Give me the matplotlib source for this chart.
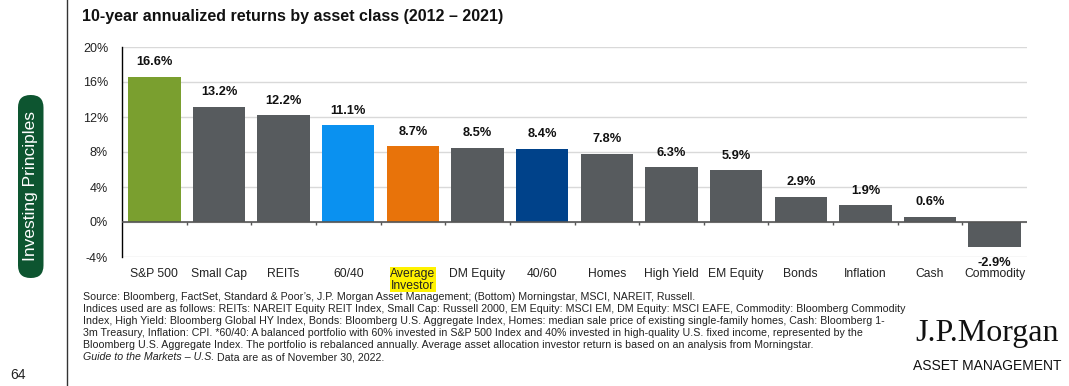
import numpy as np
import matplotlib
matplotlib.use("Agg")
import matplotlib.pyplot as plt
from matplotlib.patches import FancyBboxPatch

plt.rcParams['font.family'] = ['Liberation Sans', 'DejaVu Sans']

categories = ['S&P 500', 'Small Cap', 'REITs', '60/40', 'Average\nInvestor', 'DM Equity',
              '40/60', 'Homes', 'High Yield', 'EM Equity', 'Bonds', 'Inflation', 'Cash', 'Commodity']
returns = [16.6, 13.2, 12.2, 11.1, 8.7, 8.5, 8.4, 7.8, 6.3, 5.9, 2.9, 1.9, 0.6, -2.9]
bar_colors = ['#7A9F2F', '#575B5E', '#575B5E', '#0A91F0', '#E8730A', '#575B5E', '#00428A',
              '#575B5E', '#575B5E', '#575B5E', '#575B5E', '#575B5E', '#575B5E', '#575B5E']
yticks = [-4, 0, 4, 8, 12, 16, 20]

title = '10-year annualized returns by asset class (2012 \u2013 2021)'
footnote = [
    "Source: Bloomberg, FactSet, Standard & Poor\u2019s, J.P. Morgan Asset Management; (Bottom) Morningstar, MSCI, NAREIT, Russell.",
    "Indices used are as follows: REITs: NAREIT Equity REIT Index, Small Cap: Russell 2000, EM Equity: MSCI EM, DM Equity: MSCI EAFE, Commodity: Bloomberg Commodity",
    "Index, High Yield: Bloomberg Global HY Index, Bonds: Bloomberg U.S. Aggregate Index, Homes: median sale price of existing single-family homes, Cash: Bloomberg 1-",
    "3m Treasury, Inflation: CPI. *60/40: A balanced portfolio with 60% invested in S&P 500 Index and 40% invested in high-quality U.S. fixed income, represented by the",
    "Bloomberg U.S. Aggregate Index. The portfolio is rebalanced annually. Average asset allocation investor return is based on an analysis from Morningstar.",
]

W, H = 1069, 386
fig = plt.figure(figsize=(W / 100, H / 100), dpi=100)
fig.patch.set_facecolor('white')

# main chart area (pixel placement)
l, r, t, b = 122, 1027, 47, 257
ax = fig.add_axes([l / W, 1 - b / H, (r - l) / W, (b - t) / H])

x = np.arange(len(categories))
ax.bar(x, returns, width=0.81, color=bar_colors, zorder=3)
ax.set_xlim(-0.5, len(categories) - 0.5)
ax.set_ylim(-4, 20)
ax.set_yticks(yticks)
ax.set_yticklabels([f'{v}%' for v in yticks], fontsize=9, color='#222222')
ax.yaxis.grid(True, color='#D9D9D9', lw=1, zorder=0)
ax.tick_params(axis='y', length=0, pad=10)
ax.set_xticks(x)
ax.set_xticklabels(categories, fontsize=8.7, color='#222222', linespacing=0.95)
ax.tick_params(axis='x', length=0, pad=8)
for s in ['top', 'right', 'bottom']:
    ax.spines[s].set_visible(False)
ax.spines['left'].set_color('black')
ax.spines['left'].set_linewidth(1)

# zero line with category separators
ax.axhline(0, color='#555555', lw=1.2, zorder=4)
ax.vlines(x[:-1] + 0.5, -0.35, 0, color='#555555', lw=1, zorder=4)

# highlight Average Investor label
for lab in ax.get_xticklabels():
    if lab.get_text().startswith('Average'):
        lab.set_bbox(dict(facecolor='#FFF200', edgecolor='none', pad=0.5))

for xi, v in zip(x, returns):
    if v >= 0:
        ax.annotate(f'{v}%', (xi, v), xytext=(0, 6), textcoords='offset points',
                    ha='center', va='bottom', fontsize=9.2, fontweight='bold', color='#111111')
    else:
        ax.annotate(f'{v}%', (xi, v), xytext=(0, -7), textcoords='offset points',
                    ha='center', va='top', fontsize=9.2, fontweight='bold', color='#111111',
                    annotation_clip=False)

fig.text(82 / W, 1 - 17 / H, title, fontsize=11.5, fontweight='bold', va='center', ha='left', color='#111111')

fs = 7.7
for i, line in enumerate(footnote):
    fig.text(83 / W, 1 - (297 + i * 12) / H, line, fontsize=fs, va='center', ha='left', color='#222222')
guide = fig.text(83 / W, 1 - (297 + 5 * 12) / H, 'Guide to the Markets \u2013 U.S.', fontsize=fs,
                 style='italic', va='center', ha='left', color='#222222')
fig.canvas.draw()
bb = guide.get_window_extent()
fig.text(bb.x1 / W, 1 - (297 + 5 * 12) / H, ' Data are as of November 30, 2022.', fontsize=fs,
         va='center', ha='left', color='#222222')

# logo text
fig.text(987 / W, 1 - 333 / H, 'J.P.Morgan', family='Liberation Serif', fontsize=23,
         ha='center', va='center', color='#111111')
fig.text(987 / W, 1 - 366 / H, 'ASSET MANAGEMENT', fontsize=10, ha='center', va='center', color='#111111')

# left margin: divider, side tab, page number
fig.add_artist(plt.Line2D([67 / W, 67 / W], [0, 1], color='#333333', lw=1))
pill = FancyBboxPatch((0.18, (H - 278) / 100), 0.255, 1.83, boxstyle='round,pad=0,rounding_size=0.125',
                      transform=fig.dpi_scale_trans, facecolor='#0D5530', edgecolor='none')
fig.add_artist(pill)
fig.text(0.3075 * 100 / W, 1 - 186 / H, 'Investing Principles', rotation=90, fontsize=12.5,
         color='white', ha='center', va='center')
fig.text(10 / W, 1 - 375 / H, '64', fontsize=10, ha='left', va='center', color='#222222')

fig.savefig('out.png', dpi=100)
